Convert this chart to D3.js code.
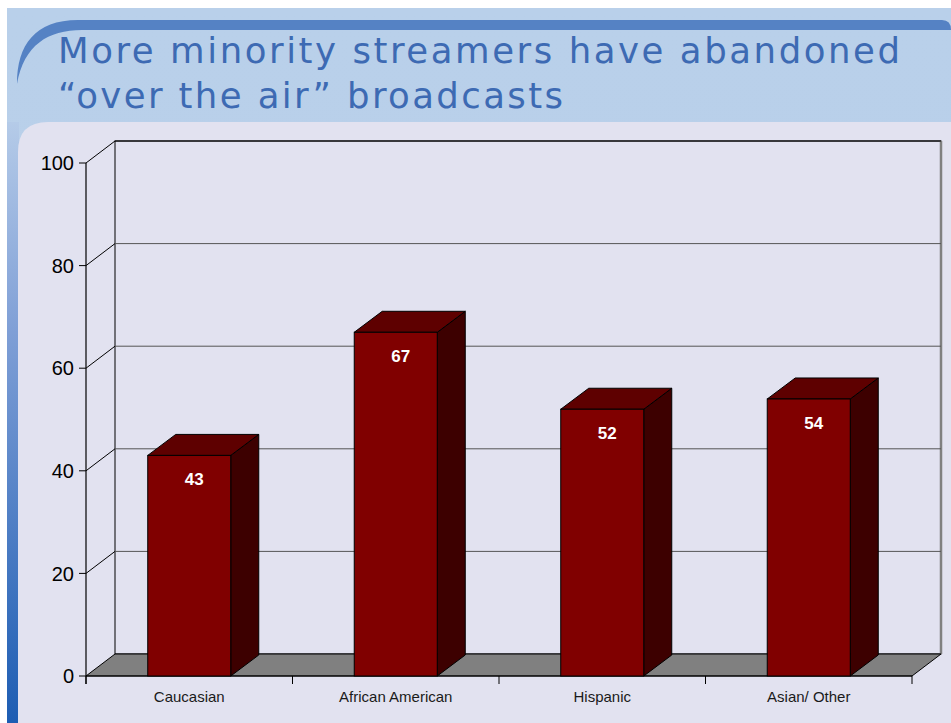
<!DOCTYPE html>
<html><head><meta charset="utf-8">
<script src="https://cdn.jsdelivr.net/npm/d3@7"></script>
<style>body{margin:0;background:#fff;}svg{display:block;}</style>
</head><body>
<svg id="c" width="951" height="723"></svg>
<script>
const categories = ["Caucasian", "African American", "Hispanic", "Asian/ Other"];
const values = [43, 67, 52, 54];
const yTicks = [0, 20, 40, 60, 80, 100];
const titleLines = ["More minority streamers have abandoned", "\u201Cover the air\u201D broadcasts"];

const svg = d3.select("#c");
const defs = svg.append("defs");
const g1 = defs.append("linearGradient").attr("id","band").attr("x1",0).attr("x2",0).attr("y1",0).attr("y2",1);
g1.append("stop").attr("offset","0").attr("stop-color","#b9d0ea");
g1.append("stop").attr("offset","0.8").attr("stop-color","#b8cfe9");
g1.append("stop").attr("offset","1").attr("stop-color","#a9c2e4");
const g2 = defs.append("linearGradient").attr("id","side").attr("x1",0).attr("x2",0).attr("y1",0).attr("y2",1);
g2.append("stop").attr("offset","0").attr("stop-color","#b5cbe8");
g2.append("stop").attr("offset","0.35").attr("stop-color","#7f9fd6");
g2.append("stop").attr("offset","1").attr("stop-color","#1d5db3");

// backgrounds
svg.append("rect").attr("x",7).attr("y",8).attr("width",944).attr("height",715).attr("fill","url(#band)");
svg.append("rect").attr("x",7).attr("y",122).attr("width",12).attr("height",601).attr("fill","url(#side)");
svg.append("path").attr("d","M18,723 L18,152 Q18,122 48,122 L951,122 L951,723 Z").attr("fill","#e2e2f0");
svg.append("path").attr("d","M17,84 C17,45 35,20 78,20 L942,20 Q951,20 951,30 L82,30 C48,30 24,45 17,84 Z").attr("fill","#5582c4");

// title
svg.selectAll("text.title").data(titleLines).join("text")
  .attr("class","title")
  .attr("x",58).attr("y",(d,i)=>63+i*45)
  .attr("textLength",(d,i)=>i===0?842:505).attr("lengthAdjust","spacing")
  .attr("font-family","DejaVu Sans, Verdana, sans-serif").attr("font-size",35.5)
  .attr("fill","#3d6ab3").text(d=>d);

// chart geometry
const dx = 29, dy = -22;
const y = d3.scaleLinear().domain([0,100]).range([676,163]);
const x = d3.scaleBand().domain(categories).range([86,912]).paddingInner(0.598).paddingOuter(0.299);
const x0 = 86, x1 = 912;

const chart = svg.append("g");
// back wall
chart.append("rect").attr("x",x0+dx).attr("y",y(100)+dy).attr("width",x1-x0).attr("height",y(0)-y(100))
  .attr("fill","#e2e2f0").attr("stroke","#000").attr("stroke-width",1);
chart.append("line").attr("x1",x1+dx).attr("x2",x1+dx).attr("y1",y(100)+dy).attr("y2",y(0)+dy)
  .attr("stroke","#808080").attr("stroke-width",2.5);
// gridlines + side-wall diagonals
yTicks.filter(t=>t>0).forEach(t=>{
  chart.append("line").attr("x1",x0+dx).attr("x2",x1+dx).attr("y1",y(t)+dy).attr("y2",y(t)+dy)
    .attr("stroke", t===100?"#000":"#555").attr("stroke-width",1);
  chart.append("line").attr("x1",x0).attr("x2",x0+dx).attr("y1",y(t)).attr("y2",y(t)+dy)
    .attr("stroke","#000").attr("stroke-width",1);
});
// floor
chart.append("polygon").attr("points",[[x0,y(0)],[x0+dx,y(0)+dy],[x1+dx,y(0)+dy],[x1,y(0)]].map(p=>p.join(",")).join(" "))
  .attr("fill","#808080").attr("stroke","#000").attr("stroke-width",1);

// front y axis
chart.append("line").attr("x1",x0).attr("x2",x0).attr("y1",y(100)).attr("y2",y(0)+8).attr("stroke","#000").attr("stroke-width",1.2);
chart.selectAll("line.yt").data(yTicks).join("line").attr("class","yt")
  .attr("x1",x0-7).attr("x2",x0).attr("y1",d=>y(d)).attr("y2",d=>y(d)).attr("stroke","#000");
chart.selectAll("text.yl").data(yTicks).join("text").attr("class","yl")
  .attr("x",74).attr("y",d=>y(d)).attr("dy","0.36em").attr("text-anchor","end")
  .attr("font-family","Liberation Sans, Arial, sans-serif").attr("font-size",20).attr("fill","#000").text(d=>d);

// x axis
chart.append("line").attr("x1",x0).attr("x2",x1).attr("y1",y(0)).attr("y2",y(0)).attr("stroke","#000").attr("stroke-width",1.2);
const step = x.step();
const bounds = d3.range(categories.length+1).map(i=>x0+i*step);
chart.selectAll("line.xt").data(bounds).join("line").attr("class","xt")
  .attr("x1",d=>d).attr("x2",d=>d).attr("y1",y(0)).attr("y2",y(0)+8).attr("stroke","#000");
chart.selectAll("text.xl").data(categories).join("text").attr("class","xl")
  .attr("x",d=>x(d)+x.bandwidth()/2).attr("y",702).attr("text-anchor","middle")
  .attr("font-family","Liberation Sans, Arial, sans-serif").attr("font-size",15).attr("fill","#1a1a1a").text(d=>d);

// bars
const bdx = 28, bdy = -21;
const data = categories.map((c,i)=>({c, v: values[i]}));
const bars = chart.selectAll("g.bar").data(data).join("g").attr("class","bar");
bars.append("polygon").attr("points",d=>{
  const xl = x(d.c), w = x.bandwidth(), yt = y(d.v);
  return [[xl+w,yt],[xl+w+bdx,yt+bdy],[xl+w+bdx,y(0)+bdy],[xl+w,y(0)]].map(p=>p.join(",")).join(" ");
}).attr("fill","#3d0000").attr("stroke","#000").attr("stroke-width",1);
bars.append("polygon").attr("points",d=>{
  const xl = x(d.c), w = x.bandwidth(), yt = y(d.v);
  return [[xl,yt],[xl+bdx,yt+bdy],[xl+w+bdx,yt+bdy],[xl+w,yt]].map(p=>p.join(",")).join(" ");
}).attr("fill","#5e0000").attr("stroke","#000").attr("stroke-width",1);
bars.append("rect").attr("x",d=>x(d.c)).attr("y",d=>y(d.v)).attr("width",x.bandwidth()).attr("height",d=>y(0)-y(d.v))
  .attr("fill","#800000").attr("stroke","#000").attr("stroke-width",1);
bars.append("text").attr("x",d=>x(d.c)+x.bandwidth()/2+5).attr("y",d=>y(d.v)+30).attr("text-anchor","middle")
  .attr("font-family","Liberation Sans, Arial, sans-serif").attr("font-size",17).attr("font-weight","bold")
  .attr("fill","#fff").text(d=>d.v);
</script>
</body></html>
